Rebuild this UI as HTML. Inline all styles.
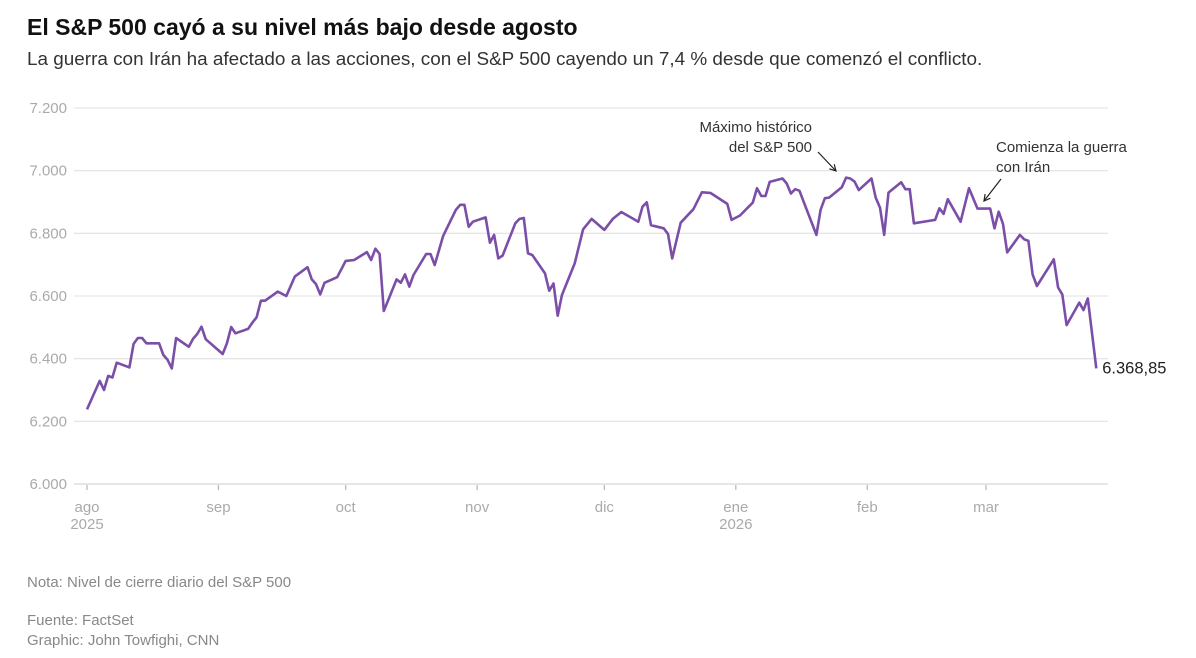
<!DOCTYPE html>
<html><head><meta charset="utf-8">
<style>
body{margin:0;background:#fff;font-family:"Liberation Sans",sans-serif;}
#wrap{position:relative;width:1196px;height:658px;overflow:hidden;}
.t{position:absolute;white-space:nowrap;}
</style></head>
<body>
<div id="wrap">
<div class="t" style="left:27px;top:14px;font-size:23px;font-weight:bold;color:#111;">El S&amp;P 500 cayó a su nivel más bajo desde agosto</div>
<div class="t" style="left:27px;top:49px;font-size:18.9px;color:#333;">La guerra con Irán ha afectado a las acciones, con el S&amp;P 500 cayendo un 7,4 % desde que comenzó el conflicto.</div>
<svg id="chart" width="1196" height="560" style="position:absolute;left:0;top:0"></svg>
<div class="t" style="left:27px;top:574px;font-size:15px;color:#888;">Nota: Nivel de cierre diario del S&amp;P 500</div>
<div class="t" style="left:27px;top:612px;font-size:15px;color:#888;">Fuente: FactSet</div>
<div class="t" style="left:27px;top:632px;font-size:15px;color:#888;">Graphic: John Towfighi, CNN</div>
</div>
<script>
const days=[0,3,4,5,6,7,10,11,12,13,14,17,18,19,20,21,24,25,26,27,28,32,33,34,35,38,39,40,41,42,45,47,49,52,53,54,55,56,59,61,63,66,67,68,69,70,73,74,75,76,77,80,81,82,84,87,88,89,90,91,94,95,96,97,98,101,102,103,104,105,108,109,110,111,112,115,117,119,122,124,126,130,131,132,133,136,137,138,140,143,145,147,151,152,154,157,158,159,160,161,164,165,166,167,168,172,173,174,175,178,179,180,181,182,185,186,187,188,189,192,193,194,195,200,201,202,203,206,208,210,213,214,215,216,217,220,221,222,223,224,228,229,230,231,234,235,236,238];
const values=[6238,6329,6300,6345,6340,6387,6372,6447,6466,6466,6449,6449,6412,6396,6369,6466,6438,6463,6479,6502,6462,6415,6449,6501,6481,6495,6515,6532,6585,6585,6614,6600,6662,6692,6653,6638,6605,6642,6660,6712,6715,6740,6715,6751,6734,6552,6653,6642,6669,6630,6667,6734,6734,6699,6792,6875,6891,6891,6821,6837,6851,6770,6795,6720,6729,6832,6846,6849,6736,6731,6672,6617,6640,6537,6603,6704,6813,6846,6811,6846,6868,6837,6885,6899,6826,6816,6798,6720,6834,6877,6931,6929,6894,6843,6857,6898,6944,6919,6919,6964,6975,6959,6927,6941,6936,6795,6875,6912,6914,6947,6978,6975,6965,6938,6975,6914,6882,6795,6930,6963,6941,6941,6832,6843,6880,6862,6909,6837,6944,6879,6879,6816,6869,6830,6739,6795,6781,6776,6669,6632,6717,6627,6605,6507,6579,6555,6592,6368.85];
const yTicks=[6000,6200,6400,6600,6800,7000,7200];
const yTickLabels=["6.000","6.200","6.400","6.600","6.800","7.000","7.200"];
const monthDays=[0,31,61,92,122,153,184,212];
const monthLabels=["ago","sep","oct","nov","dic","ene","feb","mar"];
const yearLabels={0:"2025",153:"2026"};
const lastLabel="6.368,85";

const NS="http://www.w3.org/2000/svg";
const svg=document.getElementById('chart');
const x=d=>87+d*(899/212);
const y=v=>484-(v-6000)*(376/1200);
function mk(t,a,p){const e=document.createElementNS(NS,t);for(const k in a)e.setAttribute(k,a[k]);(p||svg).appendChild(e);return e;}
yTicks.forEach((v,i)=>{
  const l=mk('line',{x1:74,x2:1108,y1:y(v),y2:y(v),stroke:'#e6e6e6','stroke-width':v===6000?2:1.3});
  
  
  const t=mk('text',{x:67,y:y(v)+5,'text-anchor':'end','font-size':15,fill:'#aaa','font-family':'Liberation Sans, sans-serif'});
  t.textContent=yTickLabels[i];
  
  
});
monthDays.forEach((d,i)=>{
  const tk=mk('line',{x1:x(d),x2:x(d),y1:485,y2:490,stroke:'#bbb','stroke-width':1.3});
  
  
  const t=mk('text',{x:x(d),y:512,'text-anchor':'middle','font-size':15,fill:'#aaa','font-family':'Liberation Sans, sans-serif'});
  t.textContent=monthLabels[i];
  
  
  if(yearLabels[d]){
    const yt=mk('text',{x:x(d),y:529,'text-anchor':'middle','font-size':15,fill:'#aaa','font-family':'Liberation Sans, sans-serif'});
    yt.textContent=yearLabels[d];
    
    
  }
});
const path=mk('path',{d:days.map((d,i)=>(i?'L':'M')+x(d).toFixed(1)+','+y(values[i]).toFixed(1)).join(''),fill:'none',stroke:'#7b4fa8','stroke-width':2.6,'stroke-linejoin':'round'});


const li=values.length-1;
const lt=mk('text',{x:x(days[li])+6,y:y(values[li])+5,'font-size':16.5,fill:'#222','font-family':'Liberation Sans, sans-serif'});
lt.textContent=lastLabel;


function ann(lines,ax,ay,anchor,name){
  lines.forEach((s,i)=>{const t=mk('text',{x:ax,y:ay+i*20,'text-anchor':anchor,'font-size':15,fill:'#333','font-family':'Liberation Sans, sans-serif'});t.textContent=s;
  
  });
}
ann(["Máximo histórico","del S&P 500"],812,132,'end','annotation-ath');
ann(["Comienza la guerra","con Irán"],996,152,'start','annotation-war');
function arrow(x1,y1,x2,y2,name){
  const a=mk('line',{x1,y1,x2,y2,stroke:'#222','stroke-width':1.2});
  
  
  const ang=Math.atan2(y2-y1,x2-x1),L=7;
  const h=mk('path',{d:`M${x2-L*Math.cos(ang-0.5)},${y2-L*Math.sin(ang-0.5)}L${x2},${y2}L${x2-L*Math.cos(ang+0.5)},${y2-L*Math.sin(ang+0.5)}`,fill:'none',stroke:'#222','stroke-width':1.2});
  
  
}
arrow(818,152,836,171,'arrow-ath');
arrow(1001,179,984,201,'arrow-war');
</script>
</body></html>
